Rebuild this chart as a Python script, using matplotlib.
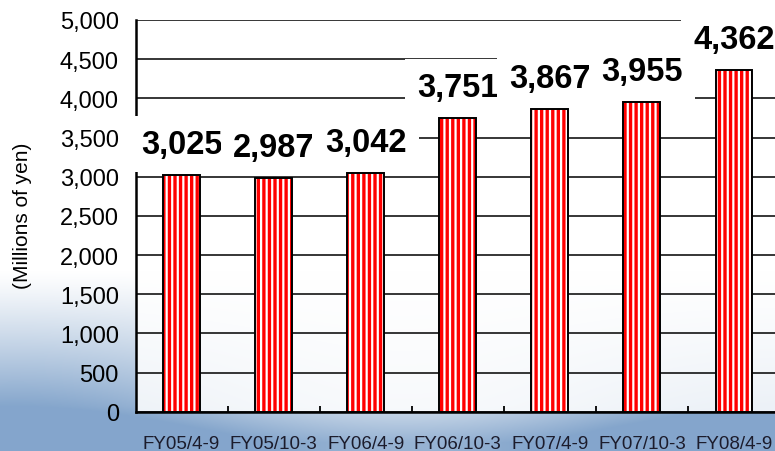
import numpy as np
import matplotlib
matplotlib.use('Agg')
from matplotlib import pyplot as plt
from matplotlib.ticker import FixedLocator, FuncFormatter

# ventas semestrales (millones de yenes)
periodos = ['FY05/4-9', 'FY05/10-3', 'FY06/4-9', 'FY06/10-3', 'FY07/4-9', 'FY07/10-3', 'FY08/4-9']
ventas = [3025, 2987, 3042, 3751, 3867, 3955, 4362]
ticks_y = [0, 500, 1000, 1500, 2000, 2500, 3000, 3500, 4000, 4500, 5000]

plt.rcParams['font.family'] = ['Liberation Sans', 'DejaVu Sans']
plt.rcParams['hatch.linewidth'] = 2.4
plt.rcParams['hatch.color'] = '#ff0000'

fig = plt.figure(figsize=(7.75, 4.52), dpi=100)

# fondo tipo cielo azul en la parte de abajo
H, W = 452, 775
yy, xx = np.mgrid[0:H, 0:W]
yf = yy / H
xf = xx / W
azul = np.clip((yf - 0.60) / 0.30, 0, 1) ** 1.2
azul = azul * (0.7 + 0.3 * np.cos((xf - 0.02) * 2.0 * np.pi))
azul = np.clip(azul + 0.45 * np.clip((yf - 0.9) / 0.08, 0, 1), 0, 1)
c_blanco = np.array([1.0, 1.0, 1.0])
c_azul = np.array([0.52, 0.65, 0.80])
img = c_blanco[None, None, :] * (1 - azul[..., None]) + c_azul[None, None, :] * azul[..., None]
bg = fig.add_axes([0, 0, 1, 1], zorder=-5)
bg.imshow(img, aspect='auto', extent=[0, 1, 0, 1])
bg.axis('off')

ax = fig.add_axes([135.5 / 775, 1 - 412.7 / 452, (780 - 135.5) / 775, (412.7 - 21) / 452])
ax.set_facecolor((1, 1, 1, 0.85))

x = np.arange(len(periodos))
ax.bar(x, ventas, width=0.4, color='white', edgecolor='#ff0000', hatch='|||', linewidth=0, zorder=3)
ax.bar(x, ventas, width=0.4, color='none', edgecolor='black', linewidth=1.4, zorder=4)

ax.set_xlim(-0.5, len(periodos) - 0.5)
ax.set_ylim(0, 5000)
ax.set_yticks(ticks_y)
ax.yaxis.set_major_formatter(FuncFormatter(lambda v, p: f'{int(v):,}'))
ax.grid(axis='y', color='black', linewidth=1.1, zorder=0)
ax.set_axisbelow(True)

ax.set_xticks(x)
ax.set_xticklabels(periodos, fontsize=13.5, color='#1c1c2c')
ax.xaxis.set_minor_locator(FixedLocator(np.arange(0.5, len(periodos) - 0.5, 1)))
ax.tick_params(axis='x', which='major', length=0, pad=17)
ax.tick_params(axis='x', which='minor', direction='in', length=4, width=1.3)
ax.tick_params(axis='y', length=0, pad=12, labelsize=17)

for s in ['top', 'right']:
    ax.spines[s].set_visible(False)
ax.spines['left'].set_linewidth(1.8)
ax.spines['bottom'].set_linewidth(1.8)

# etiquetas con caja blanca
for i, v in enumerate(ventas):
    ax.annotate(f'{v:,}', (i, v), xytext=(0, 22), textcoords='offset points',
                ha='center', va='center', fontsize=23.5, fontweight='bold',
                bbox=dict(boxstyle='square,pad=0.38', fc='white', ec='none'),
                zorder=10, annotation_clip=False)

fig.text(23 / 775, 1 - 216 / 452, '(Millions of yen)', rotation=90,
         ha='center', va='center', fontsize=15)

fig.savefig('out.png', dpi=100)
